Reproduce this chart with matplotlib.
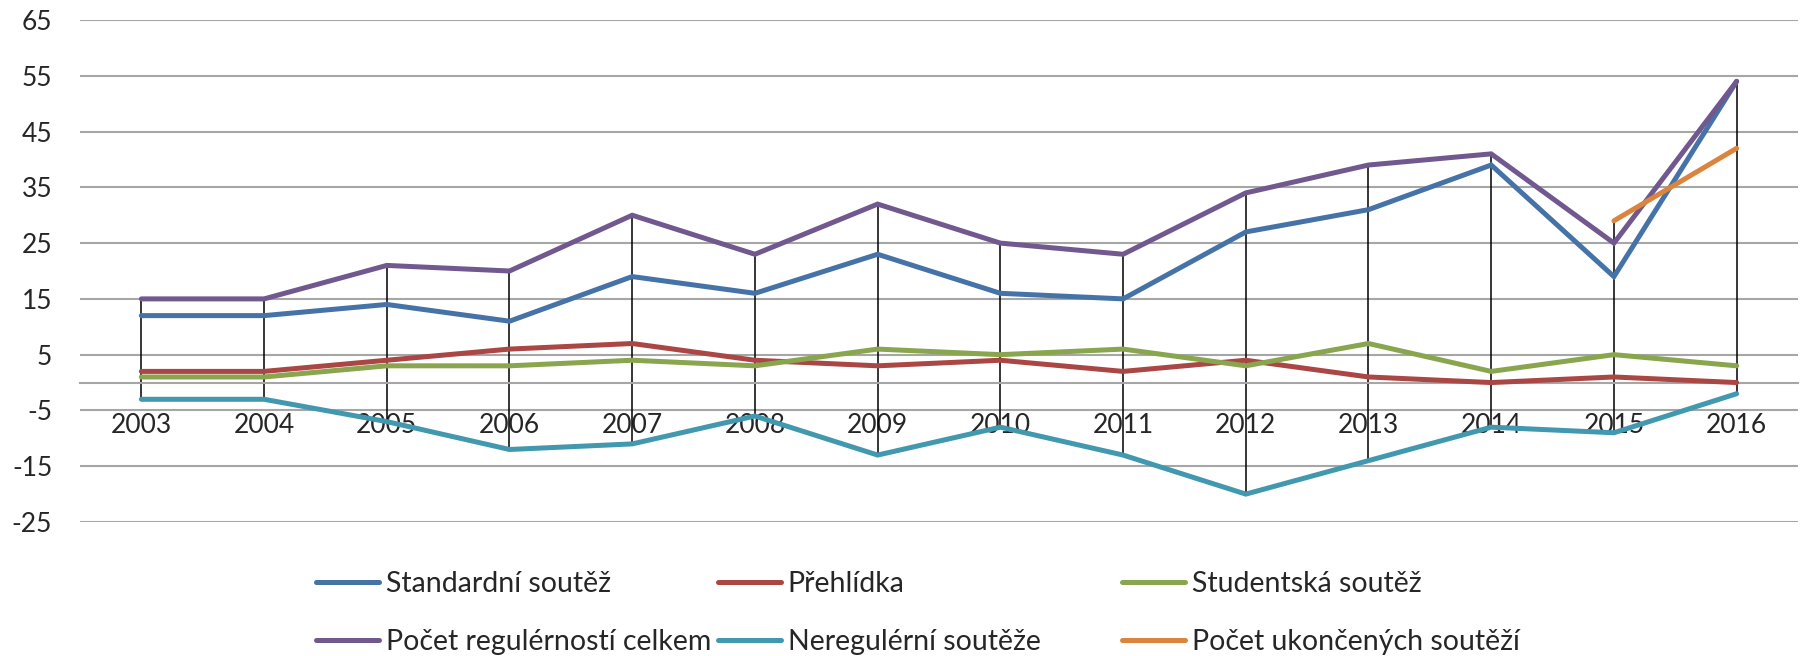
import numpy as np
import matplotlib.pyplot as plt

plt.rcParams['font.family'] = ['Lato', 'DejaVu Sans']
plt.rcParams['axes.unicode_minus'] = False

years = ['2003', '2004', '2005', '2006', '2007', '2008', '2009',
         '2010', '2011', '2012', '2013', '2014', '2015', '2016']

standardni = [12, 12, 14, 11, 19, 16, 23, 16, 15, 27, 31, 39, 19, 54]
prehlidka = [2, 2, 4, 6, 7, 4, 3, 4, 2, 4, 1, 0, 1, 0]
studentska = [1, 1, 3, 3, 4, 3, 6, 5, 6, 3, 7, 2, 5, 3]
regulernosti = [15, 15, 21, 20, 30, 23, 32, 25, 23, 34, 39, 41, 25, 54]
neregulerni = [-3, -3, -7, -12, -11, -6, -13, -8, -13, -20, -14, -8, -9, -2]
ukoncene = [np.nan] * 12 + [29, 42]

labels = ['Standardní soutěž', 'Přehlídka', 'Studentská soutěž',
          'Počet regulérností celkem', 'Neregulérní soutěže',
          'Počet ukončených soutěží']
colors = ['#4572A7', '#AA4643', '#89A54E', '#71588F', '#4198AF', '#DB843D']
series = [standardni, prehlidka, studentska, regulernosti, neregulerni, ukoncene]

fig = plt.figure(figsize=(18.06, 6.56), dpi=100)
ax = fig.add_axes([80/1806, 1 - 522/656, (1798-80)/1806, (522-20)/656])

x = np.arange(len(years))
data = np.array(series, dtype=float)

# high-low lines
ax.vlines(x, np.nanmin(data, axis=0), np.nanmax(data, axis=0),
          color='black', lw=1.1, zorder=2)

handles = []
for s, c, lab in zip(series, colors, labels):
    h, = ax.plot(x, s, color=c, lw=3.6, label=lab, zorder=3,
                 solid_capstyle='round', solid_joinstyle='miter')
    handles.append(h)

ax.set_xlim(-0.5, len(years) - 0.5)
ax.set_ylim(-25, 65)
ax.set_yticks(np.arange(-25, 66, 10))
ax.set_xticks(x)
ax.set_xticklabels(years)
ax.yaxis.grid(True, color='#A6A6A6', lw=1.5)
ax.set_axisbelow(True)

for sp in ['left', 'right', 'top']:
    ax.spines[sp].set_visible(False)
ax.spines['bottom'].set_position(('data', 0))
ax.spines['bottom'].set_color('#A6A6A6')
ax.spines['bottom'].set_linewidth(1.5)

ax.tick_params(axis='y', length=0, pad=20, labelsize=19, labelcolor='#262626')
ax.tick_params(axis='x', length=0, pad=22, labelsize=19, labelcolor='#262626')

# legend: three columns, placed like the original
xs = [316/1806, 718/1806, 1122/1806]
for j in range(3):
    leg = fig.legend([handles[j], handles[j+3]], [labels[j], labels[j+3]],
                     loc='center left', bbox_to_anchor=(xs[j], 1 - 613/656),
                     frameon=False, fontsize=20.5, handlelength=2.2,
                     handletextpad=0.25, labelspacing=1.1,
                     borderpad=0, borderaxespad=0)
    for t in leg.get_texts():
        t.set_color('#262626')

fig.savefig('out.png', dpi=100)
